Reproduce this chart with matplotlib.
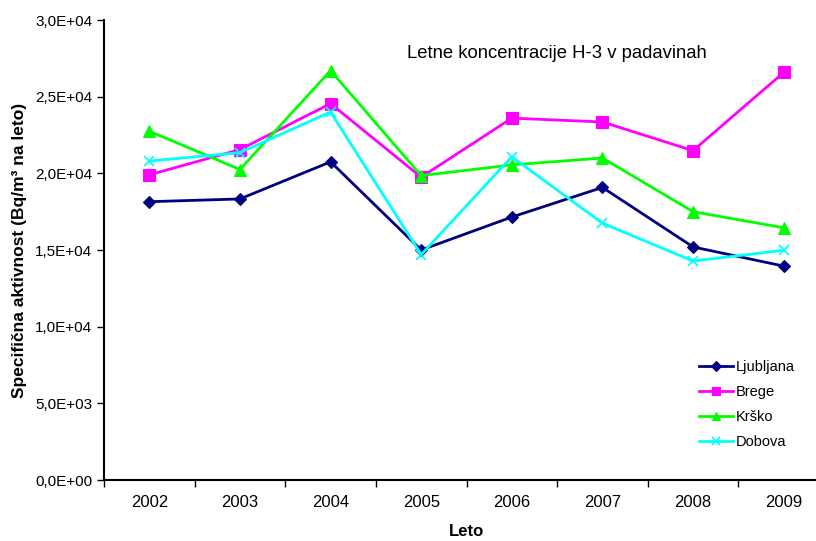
import matplotlib
matplotlib.use("Agg")
import matplotlib.pyplot as plt
from matplotlib.ticker import FixedLocator, FuncFormatter

plt.rcParams['font.family'] = ['Liberation Sans', 'DejaVu Sans']

# Letne koncentracije H-3 v padavinah (Bq/m3 na leto)
years = ['2002', '2003', '2004', '2005', '2006', '2007', '2008', '2009']
ljubljana = [18150, 18330, 20750, 15000, 17150, 19080, 15200, 13950]
brege = [19900, 21550, 24550, 19750, 23600, 23350, 21480, 26580]
krsko = [22750, 20250, 26700, 19850, 20550, 21000, 17500, 16450]
dobova = [20800, 21350, 24000, 14700, 21080, 16750, 14280, 14980]

series = [
    ('Ljubljana', ljubljana, '#000080', 'D', 6),
    ('Brege', brege, '#ff00ff', 's', 8),
    ('Krško', krsko, '#00ff00', '^', 8),
    ('Dobova', dobova, '#00ffff', 'x', 7),
]

fig = plt.figure(figsize=(8.16, 5.41), dpi=100)
ax = fig.add_axes([104/816, 61/541, 725/816, 460/541])

xs = list(range(len(years)))
for name, vals, col, mk, ms in series:
    ax.plot(xs, vals, color=col, marker=mk, markersize=ms, linewidth=2,
            markeredgewidth=1.2 if mk == 'x' else 0.8, label=name)

ax.set_xlim(-0.5, len(years) - 0.5)
ax.set_ylim(0, 30000)
ax.set_yticks([0, 5000, 10000, 15000, 20000, 25000, 30000])

def sci_comma(v, pos):
    s = '%.1E' % v
    return s.replace('.', ',')
ax.yaxis.set_major_formatter(FuncFormatter(sci_comma))

ax.set_xticks(xs)
ax.set_xticklabels(years)
ax.xaxis.set_minor_locator(FixedLocator([i - 0.5 for i in range(len(years) + 1)]))
ax.tick_params(axis='x', which='major', length=0, pad=11, labelsize=12)
ax.tick_params(axis='x', which='minor', length=5, width=1, direction='out')
ax.tick_params(axis='y', which='major', length=5, width=1, direction='out', labelsize=11)

for side in ['top', 'right']:
    ax.spines[side].set_visible(False)
for side in ['left', 'bottom']:
    ax.spines[side].set_linewidth(1.5)

ax.set_xlabel('Leto', fontsize=12, fontweight='bold', labelpad=10)
ax.set_ylabel('Specifična aktivnost (Bq/m³ na leto)', fontsize=12.5, fontweight='bold', labelpad=6)

# title inside the plot, positioned in figure pixels
fig.text(407/816, 1 - 54/541, 'Letne koncentracije H-3 v padavinah',
         fontsize=13.3, va='center', ha='left')

leg = ax.legend(loc='upper left', bbox_to_anchor=(692/816, (541-353)/541),
                bbox_transform=fig.transFigure, frameon=False, fontsize=10.5,
                handlelength=2.3, labelspacing=0.75, borderpad=0, handletextpad=0.2,
                markerscale=0.8)

fig.savefig('out.png', dpi=100)
